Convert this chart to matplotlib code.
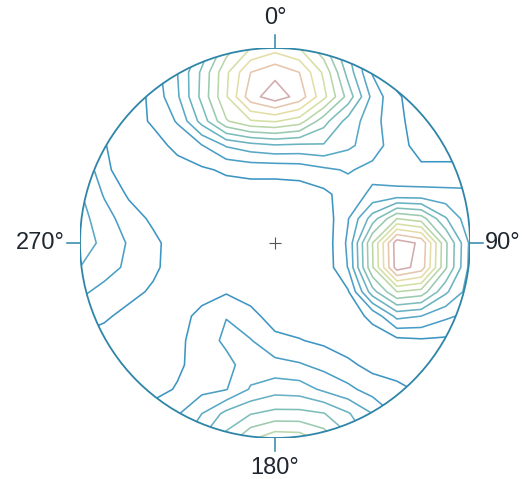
import numpy as np
import matplotlib
matplotlib.use("Agg")
import matplotlib.pyplot as plt
from matplotlib.patches import Circle

# Pole density sampled on a square grid across the net (x, y in units of the net radius).
grid_x = np.linspace(-1.0, 1.0, 17)
grid_y = np.linspace(1.0, -1.0, 17)  # first row is the top (north) edge

density_rows = [
    [0.5, 0.5, 0.6, 1.0, 2.3, 4.3, 6.5, 8.0, 8.6, 8.0, 6.3, 4.0, 1.8, 0.7, 0.5, 0.5, 0.5],
    [0.5, 0.5, 0.6, 1.5, 3.0, 5.2, 7.8, 10.0, 10.7, 10.0, 7.8, 4.6, 1.9, 0.7, 0.5, 0.5, 0.5],
    [0.4, 0.4, 0.3, 1.3, 2.85, 5.3, 7.9, 10.6, 11.6, 10.6, 8.3, 5.6, 2.7, 1.1, 0.6, 0.5, 0.5],
    [0.6, 0.5, 0.5, 1.15, 2.1, 4.4, 6.9, 7.9, 8.1, 7.5, 5.4, 3.6, 2.4, 1.25, 0.5, 0.5, 0.5],
    [2.0, 1.05, 0.5, 0.6, 1.27, 1.95, 3.1, 3.6, 3.9, 3.8, 3.9, 3.2, 2.5, 1.4, 0.6, 0.6, 0.6],
    [3.1, 1.2, 0.5, 0.5, 0.6, 0.85, 1.15, 1.3, 1.3, 1.4, 1.8, 2.1, 1.7, 1.3, 1.2, 1.2, 1.2],
    [3.1, 1.9, 0.85, 0.4, 0.5, 0.5, 0.5, 0.5, 0.5, 0.5, 0.75, 1.5, 2.2, 2.35, 2.35, 2.3, 2.25],
    [3.4, 2.4, 1.5, 0.8, 0.5, 0.5, 0.5, 0.5, 0.5, 0.5, 0.35, 1.95, 4.5, 7.0, 6.5, 4.1, 2.3],
    [3.6, 2.7, 1.9, 1.25, 0.5, 0.5, 0.5, 0.5, 0.5, 0.5, 0.3, 2.2, 7.0, 11.6, 10.8, 6.2, 2.8],
    [3.0, 2.4, 1.8, 1.2, 0.5, 0.5, 0.5, 0.5, 0.5, 0.5, 0.3, 2.05, 6.9, 11.5, 10.6, 6.15, 2.7],
    [2.2, 1.7, 1.3, 0.85, 0.5, 0.6, 0.9, 0.5, 0.5, 0.5, 0.3, 0.9, 4.6, 7.0, 6.6, 4.2, 2.5],
    [1.5, 1.15, 0.7, 0.5, 0.6, 1.3, 1.97, 1.35, 0.5, 0.5, 0.4, 0.6, 1.2, 3.3, 3.0, 2.2, 1.7],
    [0.8, 0.6, 0.5, 0.5, 0.75, 1.5, 2.2, 2.05, 1.3, 1.05, 0.8, 0.5, 0.6, 0.7, 0.85, 0.8, 0.8],
    [0.5, 0.5, 0.5, 0.5, 0.8, 1.5, 1.7, 2.5, 2.3, 2.1, 1.7, 1.2, 0.7, 0.7, 0.7, 0.8, 0.8],
    [0.5, 0.5, 0.5, 0.6, 1.1, 1.7, 1.95, 3.1, 3.6, 3.5, 2.8, 2.25, 1.55, 1.15, 0.9, 0.8, 0.8],
    [0.7, 0.7, 0.7, 1.5, 1.9, 3.0, 4.3, 4.95, 5.3, 5.3, 5.05, 4.1, 3.0, 1.8, 0.9, 0.8, 0.8],
    [1.0, 1.0, 1.0, 1.5, 2.5, 4.0, 5.3, 6.8, 7.6, 7.5, 6.6, 5.2, 3.6, 2.2, 1.0, 1.0, 1.0],
]

contour_levels = [1, 2, 3, 4, 5, 6, 7, 8, 9, 10, 11]
level_colors = [
    "#3d95c3", "#4a9ec6", "#58a8c6", "#68b2c2", "#7ebeba", "#9bcab0",
    "#bad6a8", "#d4dfa4", "#e5dda6", "#e6c6ad", "#d2abad",
]

direction_labels = ["0°", "90°", "180°", "270°"]
direction_azimuths = [0, 90, 180, 270]

net_color = "#2f85a8"
text_color = "#1e2630"

fig = plt.figure(figsize=(5.32, 4.79), dpi=100)
fig.patch.set_facecolor("white")
ax = fig.add_axes([80 / 532, 41 / 479, 390 / 532, 390 / 479])
ax.set_xlim(-1, 1)
ax.set_ylim(-1, 1)
ax.set_aspect("equal")
ax.axis("off")

X, Y = np.meshgrid(grid_x, grid_y)
Z = np.array(density_rows)

cs = ax.contour(X, Y, Z, levels=contour_levels, colors=level_colors,
                linewidths=1.15)
clip = Circle((0, 0), 1.0, transform=ax.transData)
cs.set_clip_path(clip)

# primitive circle of the net
ax.add_patch(Circle((0, 0), 1.0, fill=False, edgecolor=net_color,
                    linewidth=1.3, zorder=5))

# centre cross
ax.plot([0], [0], marker="+", markersize=8, color="#555555",
        markeredgewidth=0.8, zorder=6)

# cardinal ticks and labels
for label, az in zip(direction_labels, direction_azimuths):
    a = np.deg2rad(az)
    dx, dy = np.sin(a), np.cos(a)
    ax.plot([dx * 1.0, dx * 1.065], [dy * 1.0, dy * 1.065], color=net_color,
            linewidth=1.1, clip_on=False, zorder=5)
    if az == 0:
        ax.text(0, 1.155, label, ha="center", va="center", fontsize=17,
                color=text_color, family="Liberation Sans")
    elif az == 180:
        ax.text(0, -1.155, label, ha="center", va="center", fontsize=17,
                color=text_color, family="Liberation Sans")
    elif az == 90:
        ax.text(1.075, 0.0, label, ha="left", va="center", fontsize=17,
                color=text_color, family="Liberation Sans")
    else:
        ax.text(-1.08, 0.0, label, ha="right", va="center", fontsize=17,
                color=text_color, family="Liberation Sans")

fig.savefig("out.png", dpi=100, facecolor="white")
